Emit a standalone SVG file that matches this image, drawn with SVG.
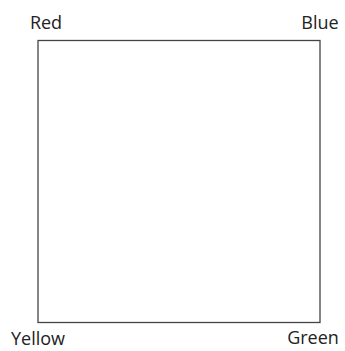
<svg xmlns="http://www.w3.org/2000/svg" width="345" height="351" viewBox="0 0 345 351">
<style>
.lbl{font-family:"Open Sans","DejaVu Sans",sans-serif;font-size:18px;fill:#222;text-anchor:middle}
.box{fill:none;stroke:#444;stroke-width:1.3}
</style>
<rect width="345" height="351" fill="#fff"/>
<g id="square"><rect class="box" x="38" y="40.5" width="282" height="282"/></g>
<g id="red"><text class="lbl" x="46" y="29">Red</text></g>
<g id="blue"><text class="lbl" x="320" y="29">Blue</text></g>
<g id="yellow"><text class="lbl" x="38" y="345">Yellow</text></g>
<g id="green"><text class="lbl" x="313" y="344">Green</text></g>
<g id="connectors"></g>
</svg>
